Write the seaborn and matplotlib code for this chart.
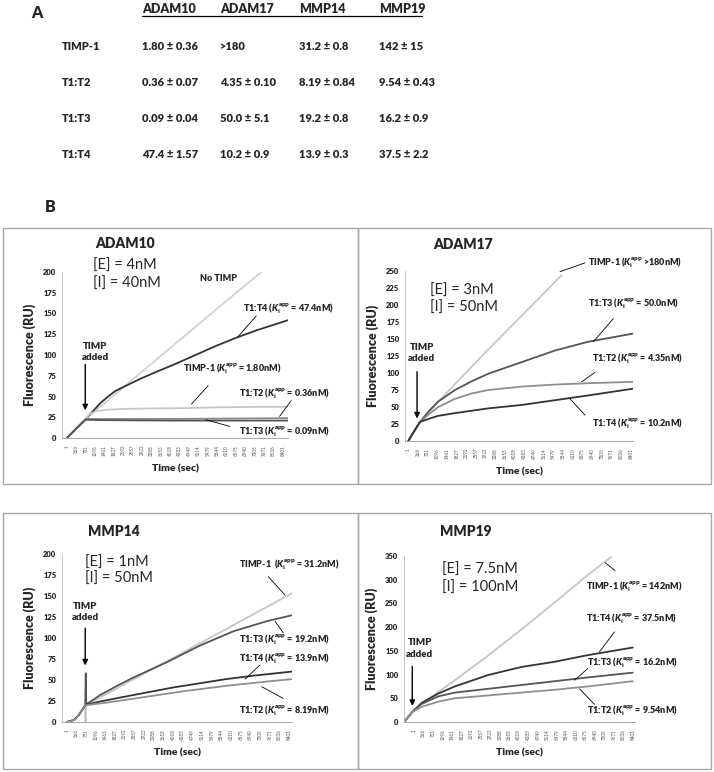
import seaborn as sns
import matplotlib.pyplot as plt
from matplotlib.patches import Rectangle
from matplotlib.lines import Line2D
import pandas as pd

# ---------------- panel A: Ki(app) table ----------------
enzymes = ["ADAM10", "ADAM17", "MMP14", "MMP19"]
inhibitors = ["TIMP-1", "T1:T2", "T1:T3", "T1:T4"]
ki_table = [
    ["1.80 ± 0.36", ">180", "31.2 ± 0.8", "142 ± 15"],
    ["0.36 ± 0.07", "4.35 ± 0.10", "8.19 ± 0.84", "9.54 ± 0.43"],
    ["0.09 ± 0.04", "50.0 ± 5.1", "19.2 ± 0.8", "16.2 ± 0.9"],
    ["47.4 ± 1.57", "10.2 ± 0.9", "13.9 ± 0.3", "37.5 ± 2.2"],
]

# x category labels (Excel style, every 365th reading)
time_labels = ["1", "366", "731", "1096", "1461", "1827", "2192", "2557",
               "2922", "3288", "3653", "4018", "4383", "4749", "5114", "5479",
               "5844", "6210", "6575", "6940", "7305", "7671", "8036", "8401"]

# ---------------- panel B: progress curves ----------------
# ADAM10
a10_notimp_t = [0, 350, 731, 2000, 4000, 6000, 7560]
a10_notimp_y = [0, 11, 23, 56, 108, 160, 200]
a10_t1t4_t = [0, 350, 731, 1000, 1300, 1600, 1900, 2300, 2900, 3500, 4200, 5000, 5800, 6600, 7400, 8000, 8600]
a10_t1t4_y = [0, 11, 23, 32, 42, 50, 57, 63, 72, 80, 89, 100, 111, 121, 130, 136, 142]
a10_timp1_t = [0, 350, 731, 850, 1100, 1500, 2200, 3000, 4500, 6000, 7500, 8600]
a10_timp1_y = [0, 11, 23, 28, 32, 34, 35, 35.5, 36, 37, 37.5, 37.5]
a10_t1t2_t = [0, 350, 731, 1500, 4000, 6500, 8600]
a10_t1t2_y = [0, 11, 23, 23, 23, 23.5, 24]
a10_t1t3_t = [0, 350, 731, 1500, 4000, 6500, 8600]
a10_t1t3_y = [0, 11, 22, 21.5, 21, 21, 21]

# ADAM17
a17_timp1_t = [0, 200, 440, 1500, 3000, 4500, 5790]
a17_timp1_y = [0, 13, 28, 73, 134, 193, 244]
a17_t1t3_t = [0, 200, 440, 800, 1130, 1760, 2400, 3020, 4280, 5530, 6790, 8490]
a17_t1t3_y = [0, 13, 28, 45, 58, 75, 88, 99, 116, 133, 146, 158]
a17_t1t2_t = [0, 200, 440, 800, 1130, 1760, 2400, 3020, 4280, 5530, 6790, 8490]
a17_t1t2_y = [0, 13, 28, 40, 50, 62, 70, 75, 80, 83, 85, 87]
a17_t1t4_t = [0, 200, 440, 800, 1130, 1760, 3020, 4280, 5530, 6790, 8490]
a17_t1t4_y = [0, 13, 28, 33, 37, 41, 48, 53, 60, 67, 77]

# MMP14
m14_timp1_t = [0, 150, 300, 450, 600, 700, 712, 725, 8490]
m14_timp1_y = [0, 1, 3, 8, 15, 20, 0, 20, 153]
m14_t1t3_t = [0, 150, 300, 450, 600, 700, 720, 740, 1260, 1900, 2520, 3770, 5030, 6290, 7550, 8490]
m14_t1t3_y = [0, 1, 3, 8, 15, 20, 58, 21, 32, 43, 53, 71, 91, 108, 120, 127]
m14_t1t4_t = [0, 150, 300, 450, 600, 700, 1200, 2000, 3000, 4000, 5000, 6000, 7000, 8490]
m14_t1t4_y = [0, 1, 3, 8, 15, 20, 24, 29, 35, 41, 46, 51, 55, 60]
m14_t1t2_t = [0, 150, 300, 450, 600, 700, 1500, 3000, 4500, 6000, 7500, 8490]
m14_t1t2_y = [0, 1, 3, 8, 15, 20, 23, 30, 37, 43, 48, 51]

# MMP19
m19_timp1_t = [-390, -76, 282, 921, 1559, 2836, 4113, 5391, 6668, 7562]
m19_timp1_y = [0, 21, 40, 63, 88, 140, 195, 252, 310, 348]
m19_t1t4_t = [-390, -76, 282, 921, 1559, 2836, 4113, 5391, 6668, 8392]
m19_t1t4_y = [0, 21, 40, 60, 75, 99, 116, 127, 141, 157]
m19_t1t3_t = [-390, -76, 282, 921, 1559, 2836, 4113, 5391, 6668, 8392]
m19_t1t3_y = [0, 21, 38, 54, 62, 70, 78, 86, 94, 104]
m19_t1t2_t = [-390, -76, 282, 921, 1559, 2836, 4113, 5391, 6668, 8392]
m19_t1t2_y = [0, 21, 32, 43, 50, 56, 62, 68, 75, 86]

palette = {"No TIMP": "#d2d2d2", "TIMP-1": "#c6c6c6", "T1:T2": "#8e8e8e",
           "T1:T3": "#555555", "T1:T4": "#333333"}

KI = r"($K_\mathregular{i}^\mathregular{app}$"

panels = [
    dict(name="ADAM10", E="[E] = 4nM", I="[I] = 40nM",
         rect=(62, 272, 288, 438), ylim=200, ystep=25, xlim=(-193, 8597),
         curves={"No TIMP": (a10_notimp_t, a10_notimp_y), "T1:T4": (a10_t1t4_t, a10_t1t4_y),
                 "TIMP-1": (a10_timp1_t, a10_timp1_y), "T1:T2": (a10_t1t2_t, a10_t1t2_y),
                 "T1:T3": (a10_t1t3_t, a10_t1t3_y)},
         title_xy=(1100, 234), E_xy=(1010, 208), I_xy=(1010, 186),
         added_xy=(1100, 104), arrow=(711, 92, 30),
         labels=[("No TIMP", 5880, 192, "center", None),
                 ("T1:T4 " + KI + " = 47.4nM)", 6850, 156, "left", (7360, 147, 6650, 122)),
                 ("TIMP-1 " + KI + " = 1.80nM)", 4500, 84, "left", (5490, 63, 4845, 41)),
                 ("T1:T2 " + KI + " = 0.36nM)", 6690, 53, "left", (8720, 45, 8270, 26)),
                 ("T1:T3 " + KI + " = 0.09nM)", 6690, 8, "left", (5400, 22, 6330, 14))]),
    dict(name="ADAM17", E="[E] = 3nM", I="[I] = 50nM",
         rect=(405, 271, 633, 441), ylim=250, ystep=25, xlim=(-124, 8477),
         curves={"TIMP-1": (a17_timp1_t, a17_timp1_y), "T1:T3": (a17_t1t3_t, a17_t1t3_y),
                 "T1:T2": (a17_t1t2_t, a17_t1t2_y), "T1:T4": (a17_t1t4_t, a17_t1t4_y)},
         title_xy=(944, 289), E_xy=(819, 221), I_xy=(819, 196),
         added_xy=(504, 130), arrow=(330, 106, 29),
         labels=[("TIMP-1 " + KI + " >180nM)", 6793, 263, "left", (6668, 262, 5724, 249)),
                 ("T1:T3 " + KI + " = 50.0nM)", 6793, 202, "left", (7737, 180, 6982, 146)),
                 ("T1:T2 " + KI + " = 4.35nM)", 6919, 121, "left", (7045, 101, 6542, 87)),
                 ("T1:T4 " + KI + " = 10.2nM)", 6919, 26, "left", (6668, 38, 6102, 62))]),
    dict(name="MMP14", E="[E] = 1nM", I="[I] = 50nM",
         rect=(62, 554, 292, 722), ylim=200, ystep=25, xlim=(-176, 8503),
         curves={"TIMP-1": (m14_timp1_t, m14_timp1_y), "T1:T3": (m14_t1t3_t, m14_t1t3_y),
                 "T1:T4": (m14_t1t4_t, m14_t1t4_y), "T1:T2": (m14_t1t2_t, m14_t1t2_y)},
         title_xy=(819, 227), E_xy=(693, 189), I_xy=(693, 171),
         added_xy=(693, 131), arrow=(700, 115, 64),
         labels=[("TIMP-1  " + KI + " = 31.2nM)", 6517, 187, "left", (7611, 173, 8240, 151)),
                 ("T1:T3 " + KI + " = 19.2nM)", 6517, 98, "left", (8177, 106, 7862, 120)),
                 ("T1:T4 " + KI + " = 13.9nM)", 6517, 76, "left", (7297, 68, 6731, 51)),
                 ("T1:T2 " + KI + " = 8.19nM)", 6517, 14, "left", (8177, 28, 7359, 42))]),
    dict(name="MMP19", E="[E] = 7.5nM", I="[I] = 100nM",
         rect=(404, 556, 635, 722), ylim=350, ystep=50, xlim=(-394, 8478),
         curves={"TIMP-1": (m19_timp1_t, m19_timp1_y), "T1:T4": (m19_t1t4_t, m19_t1t4_y),
                 "T1:T3": (m19_t1t3_t, m19_t1t3_y), "T1:T2": (m19_t1t2_t, m19_t1t2_y)},
         title_xy=(984, 401), E_xy=(1074, 320), I_xy=(1074, 282),
         added_xy=(218, 155), arrow=(-76, 123, 28),
         labels=[("TIMP-1 " + KI + " = 142nM)", 6604, 285, "left", (7715, 319, 7332, 336)),
                 ("T1:T4 " + KI + " = 37.5nM)", 6604, 218, "left", (7690, 190, 7115, 148)),
                 ("T1:T3 " + KI + " = 16.2nM)", 6642, 125, "left", (6668, 113, 6157, 88)),
                 ("T1:T2 " + KI + " = 9.54nM)", 6642, 25, "left", (6923, 37, 6348, 70))]),
]

W, H = 714, 772
BOLD = "heavy"
sns.set_style("white")
plt.rcParams["font.family"] = ["Lato", "DejaVu Sans"]
plt.rcParams["mathtext.fontset"] = "custom"
plt.rcParams["mathtext.rm"] = "Lato:heavy"
plt.rcParams["mathtext.it"] = "Lato:italic:heavy"
plt.rcParams["mathtext.bf"] = "Lato:heavy"

fig = plt.figure(figsize=(W / 100, H / 100), dpi=100)


def fx(x):
    return x / W


def fy(y):
    return 1 - y / H


# ---- panel A ----
fig.text(fx(37), fy(13), "A", fontsize=11.5, fontweight=BOLD, ha="center", va="center")
col_x = [142, 220, 299, 379]
row_y = [46, 82, 118, 154]
for cx, e in zip(col_x, enzymes):
    fig.text(fx(cx), fy(9), e, fontsize=9, fontweight=BOLD, ha="left", va="center")
fig.add_artist(Line2D([fx(142), fx(422)], [fy(16), fy(16)], color="black", lw=0.9))
for ry, inh, row in zip(row_y, inhibitors, ki_table):
    fig.text(fx(62), fy(ry), inh, fontsize=8, fontweight=BOLD, ha="left", va="center")
    for cx, v in zip(col_x, row):
        fig.text(fx(cx), fy(ry), v, fontsize=8, fontweight=BOLD, ha="left", va="center")

fig.text(fx(50), fy(207), "B", fontsize=11.5, fontweight=BOLD, ha="center", va="center")

# panel frames
for (x0, y0, x1, y1) in [(3, 228, 358, 484), (358, 228, 711, 484),
                         (3, 513, 358, 769), (358, 513, 711, 769)]:
    fig.add_artist(Rectangle((fx(x0), fy(y1)), fx(x1 - x0), (y1 - y0) / H,
                             transform=fig.transFigure, fill=False,
                             edgecolor="#a8a8a8", lw=1.0))

tick_pos = [int(s) for s in time_labels]

for p in panels:
    l, t, r, b = p["rect"]
    ax = fig.add_axes([fx(l), fy(b), (r - l) / W, (b - t) / H])
    rows = []
    for name, (ts, ys) in p["curves"].items():
        for tt, yy in zip(ts, ys):
            rows.append({"time": tt, "value": yy, "curve": name})
    df = pd.DataFrame(rows)
    sns.lineplot(data=df, x="time", y="value", hue="curve", palette=palette,
                 estimator=None, sort=False, legend=False, lw=1.3, ax=ax)
    ax.set_xlim(*p["xlim"])
    ax.set_ylim(0, p["ylim"])
    ax.set_yticks(range(0, p["ylim"] + 1, p["ystep"]))
    ax.set_xticks(tick_pos)
    ax.set_xticklabels(time_labels, rotation=90, fontsize=3.3, color="#555555")
    ax.tick_params(axis="y", labelsize=5.5, colors="#222222", length=0, pad=4)
    ax.tick_params(axis="x", length=2, width=0.4, color="#999999", pad=3)
    for lab in ax.get_yticklabels():
        lab.set_fontweight(BOLD)
    for s in ["top", "right"]:
        ax.spines[s].set_visible(False)
    ax.spines["left"].set_color("#bdbdbd")
    ax.spines["left"].set_linewidth(0.6)
    ax.spines["bottom"].set_color("#9a9a9a")
    ax.spines["bottom"].set_linewidth(0.6)
    ax.set_xlabel("Time (sec)", fontsize=7.5, fontweight=BOLD, labelpad=6)
    ax.set_ylabel("Fluorescence (RU)", fontsize=9, fontweight=BOLD, labelpad=5)

    ax.text(*p["title_xy"], p["name"], fontsize=10, fontweight=BOLD,
            ha="left", va="center", clip_on=False)
    ax.text(*p["E_xy"], p["E"], fontsize=10.5, ha="left", va="center", clip_on=False)
    ax.text(*p["I_xy"], p["I"], fontsize=10.5, ha="left", va="center", clip_on=False)
    ax.text(*p["added_xy"], "TIMP\nadded", fontsize=7, fontweight=BOLD,
            ha="center", va="center", linespacing=1.3)
    ax_x, ay0, ay1 = p["arrow"]
    ax.annotate("", xy=(ax_x, ay1), xytext=(ax_x, ay0),
                arrowprops=dict(arrowstyle="-|>", color="black", lw=1.0,
                                mutation_scale=8))
    for txt, tx, ty, ha, lead in p["labels"]:
        ax.text(tx, ty, txt, fontsize=6.5, fontweight=BOLD, ha=ha, va="center",
                clip_on=False)
        if lead is not None:
            ax.plot([lead[0], lead[2]], [lead[1], lead[3]], color="black",
                    lw=0.6, clip_on=False)

fig.savefig("out.png", dpi=100)
